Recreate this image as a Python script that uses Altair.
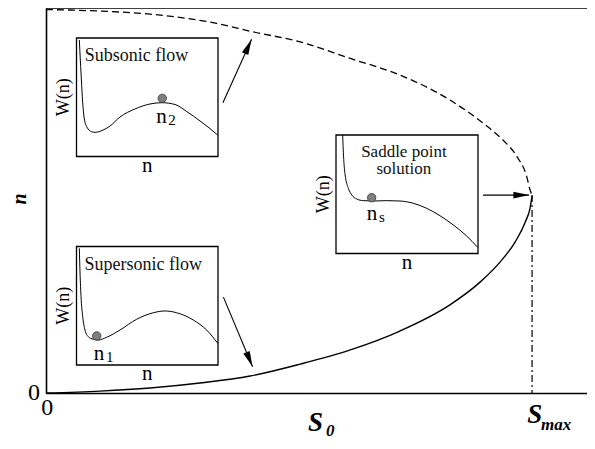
import math
import altair as alt
import pandas as pd

# ---------------- main diagram: S (in units of S_max) vs n ----------------
lower_S = [0.0, 0.111, 0.214, 0.317, 0.420, 0.523, 0.626, 0.728, 0.831, 0.893, 0.934, 0.965, 0.986, 0.996, 1.0]
lower_n = [0.0, 0.005, 0.013, 0.026, 0.044, 0.075, 0.112, 0.161, 0.229, 0.288, 0.340, 0.392, 0.444, 0.481, 0.512]
upper_S = [0.0, 0.111, 0.214, 0.351, 0.426, 0.523, 0.626, 0.728, 0.831, 0.899, 0.940, 0.969, 0.989, 0.996, 1.0]
upper_n = [0.996, 0.992, 0.984, 0.960, 0.938, 0.912, 0.869, 0.826, 0.761, 0.701, 0.657, 0.614, 0.562, 0.527, 0.514]
S_max = 1.0
n_saddle = 0.514

# arrows (start -> tip) in main-diagram units
arrow_S0 = [0.364, 0.365, 0.899]
arrow_n0 = [0.754, 0.249, 0.514]
arrow_S1 = [0.423, 0.425, 0.994]
arrow_n1 = [0.919, 0.068, 0.514]

# ---------------- insets: W(n) curves in box units ----------------
sub_n = [0.020, 0.027, 0.032, 0.041, 0.053, 0.072, 0.107, 0.131, 0.180, 0.237, 0.307, 0.413, 0.519, 0.604, 0.696, 0.781, 0.873, 0.943, 0.998]
sub_W = [0.983, 0.814, 0.705, 0.505, 0.336, 0.251, 0.209, 0.204, 0.219, 0.257, 0.333, 0.401, 0.443, 0.454, 0.439, 0.378, 0.300, 0.236, 0.181]
sub_ball = (0.606, 0.491)

sup_n = [0.020, 0.025, 0.032, 0.044, 0.060, 0.083, 0.119, 0.154, 0.213, 0.307, 0.425, 0.543, 0.625, 0.708, 0.825, 0.920, 0.998]
sup_W = [0.985, 0.776, 0.576, 0.408, 0.295, 0.239, 0.217, 0.211, 0.234, 0.295, 0.386, 0.441, 0.456, 0.441, 0.380, 0.295, 0.183]
sup_ball = (0.143, 0.245)

sad_n = [0.047, 0.051, 0.058, 0.068, 0.087, 0.111, 0.146, 0.192, 0.263, 0.357, 0.451, 0.544, 0.639, 0.732, 0.826, 0.920, 0.998]
sad_W = [1.000, 0.873, 0.732, 0.635, 0.550, 0.494, 0.460, 0.446, 0.443, 0.446, 0.443, 0.424, 0.381, 0.319, 0.241, 0.148, 0.052]
sad_ball = (0.251, 0.471)

# ---------------- layout ----------------
W_PLOT, H_PLOT = 541, 385
X_MAX = 1.113
SERIF = "Liberation Serif"

def mx(f="x"):
    return alt.X(f"{f}:Q", scale=alt.Scale(domain=[0, X_MAX], nice=False, zero=False),
                 axis=alt.Axis(labels=False, ticks=False, grid=False, title=None,
                               domainColor="black", domainWidth=1.6))

def my(f="y"):
    return alt.Y(f"{f}:Q", scale=alt.Scale(domain=[0, 1], nice=False, zero=False),
                 axis=alt.Axis(labels=False, ticks=False, grid=False, title=None,
                               domainColor="black", domainWidth=1.6))

lower = pd.DataFrame({"x": lower_S, "y": lower_n})
upper = pd.DataFrame({"x": upper_S, "y": upper_n})
vline = pd.DataFrame({"x": [S_max], "y": [n_saddle], "y2": [0.0]})

solid = alt.Chart(lower).mark_line(color="black", strokeWidth=1.4, interpolate="monotone").encode(x=mx(), y=my())
dashed = alt.Chart(upper).mark_line(color="black", strokeWidth=1.3, strokeDash=[7, 4],
                                    interpolate="monotone").encode(x=mx(), y=my())
dashdot = alt.Chart(vline).mark_rule(color="black", strokeWidth=1.2, strokeDash=[7, 3, 2, 3]).encode(
    x=mx(), y=my(), y2="y2:Q")
top_frame = alt.Chart(vline).mark_rule(color="black", strokeWidth=1.6).encode(
    x=alt.value(0), x2=alt.value(W_PLOT), y=alt.value(0))

# arrow geometry (pixel-space angle for the heads)
px_per_x = W_PLOT / X_MAX
px_per_y = H_PLOT / 1.0
angles = []
for a, b, c, d in zip(arrow_S0, arrow_n0, arrow_S1, arrow_n1):
    dx = (c - a) * px_per_x
    dy = -(d - b) * px_per_y
    angles.append(math.degrees(math.atan2(dx, -dy)) % 360)
arrows = pd.DataFrame({"x": arrow_S0, "y": arrow_n0, "x2": arrow_S1, "y2": arrow_n1, "ang": angles})
shafts = alt.Chart(arrows).mark_rule(color="black", strokeWidth=1.1).encode(
    x=mx(), y=my(), x2="x2:Q", y2="y2:Q")
heads = alt.Chart(arrows).mark_point(shape="M0,0 L-0.22,1 L0.22,1 Z", filled=True, size=1000,
                                     color="black", opacity=1).encode(
    x=mx("x2"), y=my("y2"), angle=alt.Angle("ang:Q", scale=None))

# main labels
zero_y = alt.Chart(pd.DataFrame({"x": [-0.0123], "y": [-0.018], "t": ["0"]})).mark_text(
    font=SERIF, fontSize=24, align="right", baseline="alphabetic").encode(x=mx(), y=my(), text="t:N")
zero_x = alt.Chart(pd.DataFrame({"x": [0.0027], "y": [-0.057], "t": ["0"]})).mark_text(
    font=SERIF, fontSize=24, align="center", baseline="alphabetic").encode(x=mx(), y=my(), text="t:N")

def btext(df, size, angle=0, align="left"):
    return alt.Chart(df).mark_text(font=SERIF, fontSize=size, fontStyle="italic", fontWeight="bold",
                                   align=align, baseline="alphabetic", angle=angle).encode(
        x=mx(), y=my(), text="t:N")

S_big = btext(pd.DataFrame({"x": [0.539, 0.990], "y": [-0.099, -0.078], "t": ["S", "S"]}), 27)
S_sub = btext(pd.DataFrame({"x": [0.576, 1.0185], "y": [-0.112, -0.096], "t": ["0", "max"]}), 17)
n_lab = btext(pd.DataFrame({"x": [-0.0412], "y": [0.504], "t": ["n"]}), 20, angle=270, align="center")

main = alt.layer(top_frame, solid, dashed, dashdot, shafts, heads, zero_y, zero_x, S_big, S_sub, n_lab)


# ---------------- inset builder ----------------
def inset(u, w, ball, titles, sub, box, n_pos, sub_pos, tsize=18):
    x0, x1, ytop, ybot = box
    sx = alt.Scale(domain=[0, 1], range=[x0, x1], nice=False, zero=False)
    sy = alt.Scale(domain=[0, 1], range=[ybot, ytop], nice=False, zero=False)
    X = lambda f="u": alt.X(f"{f}:Q", scale=sx, axis=None)
    Y = lambda f="v": alt.Y(f"{f}:Q", scale=sy, axis=None)
    boxdf = pd.DataFrame({"u": [0.0], "u2": [1.0], "v": [0.0], "v2": [1.0]})
    frame = alt.Chart(boxdf).mark_rect(fill="white", stroke="black", strokeWidth=1.3).encode(
        x=X(), x2="u2:Q", y=Y(), y2="v2:Q")
    curve = alt.Chart(pd.DataFrame({"u": u, "v": w})).mark_line(
        color="black", strokeWidth=1.0, interpolate="monotone").encode(x=X(), y=Y())
    dot = alt.Chart(pd.DataFrame({"u": [ball[0]], "v": [ball[1]]})).mark_circle(
        size=70, color="#808080", stroke="#303030", strokeWidth=0.8, opacity=1).encode(x=X(), y=Y())
    ttl = alt.Chart(pd.DataFrame(titles)).mark_text(
        font=SERIF, fontSize=tsize, align="center", baseline="alphabetic", color="#111").encode(
        x=X(), y=Y(), text="t:N")
    axlab = alt.Chart(pd.DataFrame({"u": [0.5], "v": [-0.127], "t": ["n"]})).mark_text(
        font=SERIF, fontSize=21, align="center", baseline="alphabetic").encode(x=X(), y=Y(), text="t:N")
    wlab = alt.Chart(pd.DataFrame({"u": [-0.05], "v": [0.5], "t": ["W(n)"]})).mark_text(
        font=SERIF, fontSize=18, align="center", baseline="alphabetic", angle=270).encode(x=X(), y=Y(), text="t:N")
    nl = alt.Chart(pd.DataFrame({"u": [n_pos[0]], "v": [n_pos[1]], "t": ["n"]})).mark_text(
        font=SERIF, fontSize=21, align="center", baseline="alphabetic").encode(x=X(), y=Y(), text="t:N")
    sl = alt.Chart(pd.DataFrame({"u": [sub_pos[0]], "v": [sub_pos[1]], "t": [sub]})).mark_text(
        font=SERIF, fontSize=15, align="left", baseline="alphabetic").encode(x=X(), y=Y(), text="t:N")
    return alt.layer(frame, curve, dot, ttl, axlab, wlab, nl, sl)


ins_sub = inset(sub_n, sub_W, sub_ball,
                {"u": [0.424], "v": [0.808], "t": ["Subsonic flow"]}, "2",
                (30.5, 172.0, 30.0, 148.5), (0.601, 0.283), (0.648, 0.262))
ins_sup = inset(sup_n, sup_W, sup_ball,
                {"u": [0.472], "v": [0.800], "t": ["Supersonic flow"]}, "1",
                (30.5, 172.0, 238.5, 357.0), (0.159, 0.042), (0.208, 0.028))
ins_sad = inset(sad_n, sad_W, sad_ball,
                {"u": [0.478, 0.478], "v": [0.818, 0.672], "t": ["Saddle point", "solution"]}, "s",
                (290.0, 432.0, 127.0, 245.5), (0.254, 0.283), (0.303, 0.266), tsize=17)

chart = alt.layer(main, ins_sub, ins_sup, ins_sad).resolve_scale(
    x="independent", y="independent"
).properties(
    width=W_PLOT, height=H_PLOT,
    autosize=alt.AutoSizeParams(type="none"),
    padding={"left": 38, "top": 0, "right": 0, "bottom": 48},
).configure_view(stroke=None)

chart.save("out.html", embed_options={"renderer": "svg", "actions": False})
